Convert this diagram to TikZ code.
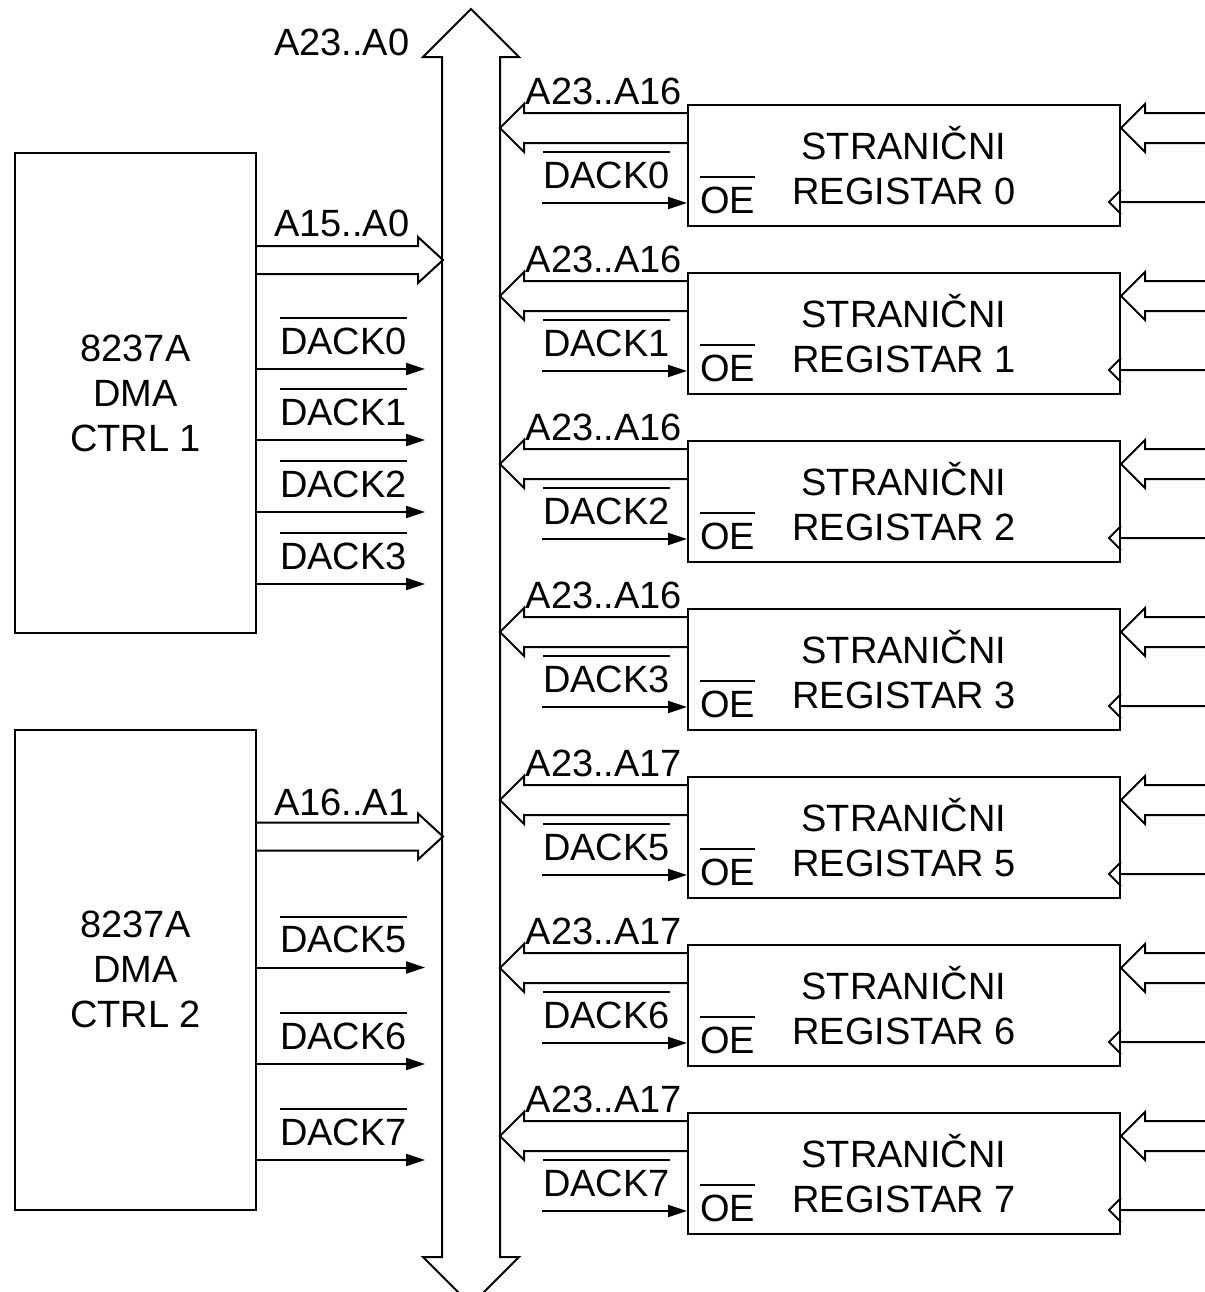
\documentclass[tikz,border=0pt]{standalone}
\usepackage{fontspec}
\setmainfont{Liberation Sans}
\usetikzlibrary{arrows.meta}
\newcommand{\ovl}[1]{\vbox{\hrule height 0.8pt\kern 4.2pt\hbox{#1}}}
\tikzset{
  block/.style={draw, align=center, inner sep=0pt},
  sig/.style={-{Triangle[length=9.5pt,width=6pt]}},
  bus/.style={line join=miter},
  lbl/.style={inner sep=0pt, anchor=base west}
}

\begin{document}
\begin{tikzpicture}[x=0.5pt,y={(0,-0.5pt)},line width=1pt,font=\fontsize{19}{22.5}\selectfont]
\useasboundingbox (0,0) rectangle (1205,1292);
\draw[bus] (442,1257) -- (442,57) -- (423,57) -- (471,9) -- (519,57) -- (500,57) -- (500,1257) -- (519,1257) -- (471,1305) -- (423,1257) -- cycle;
\node[lbl] (abus) at (273,55) {A23..A0};

\node[block, minimum width=120.5pt, minimum height=240pt] (dma1) at (135.5,393) {8237A\\DMA\\CTRL 1};
\node[block, minimum width=120.5pt, minimum height=240pt] (dma2) at (135.5,969.5) {8237A\\DMA\\CTRL 2};

\draw[bus] ([yshift=-47pt]dma1.north east) -- ++(161,0) -- ++(0,-9) -- ++(25,23) -- ++(-25,23) -- ++(0,-9) -- ++(-161,0);
\node[lbl] (a15) at ([shift={(8pt,-42pt)}]dma1.north east) {A15..A0};
\draw[bus] ([yshift=-47pt]dma2.north east) -- ++(161,0) -- ++(0,-9) -- ++(25,23) -- ++(-25,23) -- ++(0,-9) -- ++(-161,0);
\node[lbl] (a16) at ([shift={(8pt,-43.5pt)}]dma2.north east) {A16..A1};

\foreach \d/\n in {108.5pt/0,144pt/1,180pt/2,216pt/3}
  \draw[sig] ([yshift=-\d]dma1.north east) node[lbl, xshift=11pt, yshift=7.5pt] (dl\n) {\ovl{DACK\n}} -- ++(168,0);
\foreach \d/\n in {119.5pt/5,167.75pt/6,215.75pt/7}
  \draw[sig] ([yshift=-\d]dma2.north east) node[lbl, xshift=11pt, yshift=7.5pt] (dl\n) {\ovl{DACK\n}} -- ++(168,0);

\foreach \n/\a [count=\i from 0] in {0/16,1/16,2/16,3/16,5/17,6/17,7/17} {
  \node[block, minimum width=216pt, minimum height=60.5pt] (reg\n) at (904,{165.5+168*\i}) {STRANIČNI\\REGISTAR \n};
  \draw[bus] ([yshift=-4.5pt]reg\n.north west) -- ++(-163,0) -- ++(0,-9) -- ++(-24,24) -- ++(24,24) -- ++(0,-9) -- ++(163,0);
  \node[lbl, anchor=base east] (ra\n) at ([xshift=-2pt]reg\n.north west) {A23..A\a};
  \draw[sig] ([shift={(-72.5pt,12pt)}]reg\n.south west) node[lbl, yshift=7.5pt] (rd\n) {\ovl{DACK\n}} -- ([yshift=12pt]reg\n.south west);
  \node[lbl] (oe\n) at ([shift={(6pt,7pt)}]reg\n.south west) {\ovl{OE}};
  \draw[bus] ([shift={(42.5pt,-4.5pt)}]reg\n.north east) -- ++(-61,0) -- ++(0,-9) -- ++(-24,24) -- ++(24,24) -- ++(0,-9) -- ++(61,0);
  \draw[bus] ([yshift=12.5pt]reg\n.south east) -- ++(85,0) ([yshift=18.5pt]reg\n.south east) -- ++(-12,12) -- ++(12,12);
}
\end{tikzpicture}
\end{document}
